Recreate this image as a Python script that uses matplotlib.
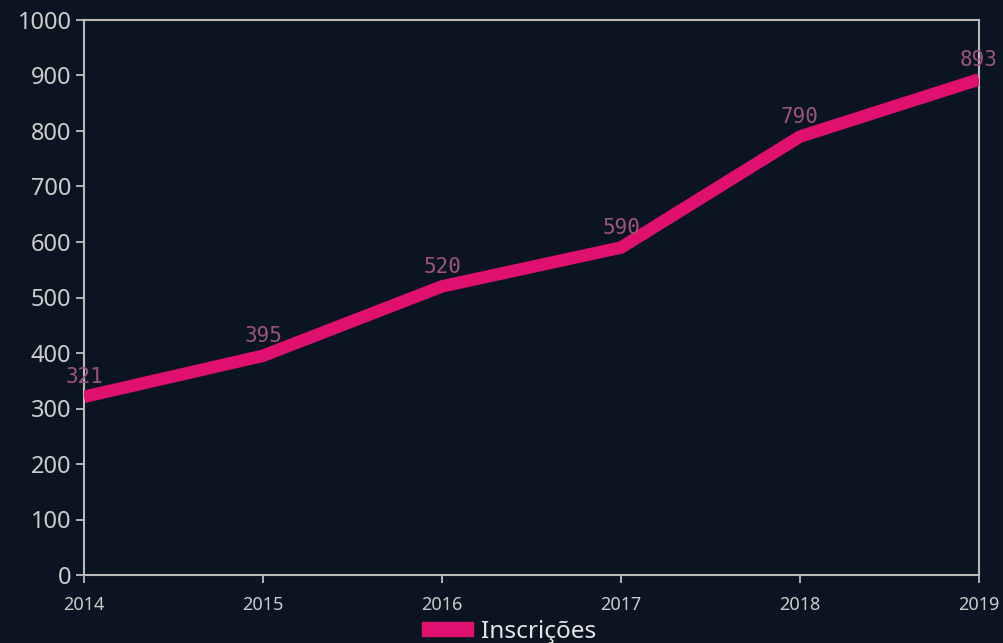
import matplotlib
matplotlib.use("Agg")
import matplotlib.pyplot as plt
from matplotlib.patches import Patch

years = [2014, 2015, 2016, 2017, 2018, 2019]
inscricoes = [321, 395, 520, 590, 790, 893]
y_ticks = list(range(0, 1001, 100))
series_name = "Inscrições"

bg = "#0b1521"
line_c = "#e0106e"
label_c = "#9c5478"
fg = "#e6e6e6"

fig = plt.figure(figsize=(10.04, 6.43), dpi=100, facecolor=bg)
ax = fig.add_axes([84/1004, 1-575/643, (979-84)/1004, (575-20)/643], facecolor=bg)

ax.plot(years, inscricoes, color=line_c, lw=9, solid_capstyle="butt", solid_joinstyle="miter", zorder=3)
for x, y in zip(years, inscricoes):
    ax.annotate(str(y), (x, y), xytext=(0, 7), textcoords="offset points",
                ha="center", va="bottom", color=label_c, fontsize=15,
                family="DejaVu Sans Mono", zorder=4, annotation_clip=False)

ax.set_xlim(2014, 2019)
ax.set_ylim(0, 1000)
ax.set_xticks(years)
ax.set_xticklabels([str(y) for y in years], family="Noto Sans", fontsize=13, color=fg)
ax.set_yticks(y_ticks)
ax.set_yticklabels([str(v) for v in y_ticks], family="Noto Sans", fontsize=17, color=fg)
ax.tick_params(colors="#cccccc", length=6, width=1.2)
ax.tick_params(axis="x", pad=9)
ax.tick_params(axis="y", pad=3)
for s in ax.spines.values():
    s.set_color("#bbbbbb")
    s.set_linewidth(1.5)

leg = fig.legend(handles=[Patch(facecolor=line_c, edgecolor=line_c, label=series_name)],
                 loc="lower center", bbox_to_anchor=(0.507, -0.035), frameon=False,
                 prop={"family": "Noto Sans", "size": 17.5}, labelcolor=fg,
                 handlelength=2.1, handleheight=0.5, handletextpad=0.3)

fig.savefig("out.png", dpi=100, facecolor=bg)
